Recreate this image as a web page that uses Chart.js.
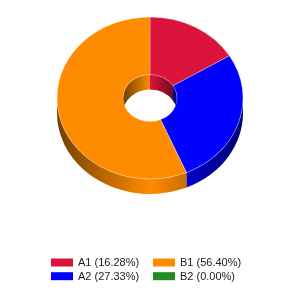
<!DOCTYPE html>
<html><head><meta charset="utf-8">
<script src="https://cdn.jsdelivr.net/npm/chart.js@4.4.0/dist/chart.umd.min.js"></script>
<style>html,body{margin:0;padding:0;background:#fff;}</style>
</head><body>
<canvas id="c" width="300" height="300"></canvas>
<script>
const categories = ['A1', 'A2', 'B1', 'B2'];
const values = [16.28, 27.33, 56.40, 0.00];
const colors = ['#DC143C', '#0000FF', '#FF8C00', '#228B22'];
const legendOrder = [0, 2, 1, 3]; // row-major: A1 B1 / A2 B2

const tilt = 0.871, depth = 15, center = {x: 150, y: 98};

function shade(hex, f) {
  const n = parseInt(hex.slice(1), 16);
  const r = Math.round(((n >> 16) & 255) * f), g = Math.round(((n >> 8) & 255) * f), b = Math.round((n & 255) * f);
  return `rgb(${r},${g},${b})`;
}
function pieces(s, e, lo, hi) {
  const out = [];
  for (const k of [-2, -1, 0, 1, 2]) {
    const a = Math.max(s + k * 2 * Math.PI, lo), b = Math.min(e + k * 2 * Math.PI, hi);
    if (b > a) out.push([a, b]);
  }
  return out;
}
function grad(ctx, cx, rad, c) {
  const g = ctx.createLinearGradient(cx - rad, 0, cx + rad, 0);
  g.addColorStop(0, shade(c, 0.45));
  g.addColorStop(0.5, shade(c, 1));
  g.addColorStop(1, shade(c, 0.45));
  return g;
}
function wall(ctx, cx, cy, rad, s, e, D, fill) {
  ctx.beginPath();
  ctx.arc(cx, cy, rad, s, e, false);
  ctx.arc(cx, cy + D, rad, e, s, true);
  ctx.closePath();
  ctx.fillStyle = fill;
  ctx.fill();
}

const pie3d = {
  id: 'pie3d',
  beforeDatasetsDraw(chart) {
    const ctx = chart.ctx;
    const arcs = chart.getDatasetMeta(0).data;
    const p0 = arcs[0].getProps(['x', 'y', 'outerRadius', 'innerRadius'], true);
    const cx = p0.x, cy = p0.y, R = p0.outerRadius, r = p0.innerRadius;
    ctx.save();
    ctx.translate(center.x, center.y);
    ctx.scale(1, tilt);
    ctx.translate(-cx, -cy);
    const D = depth / tilt;
    arcs.forEach((a, i) => {
      const p = a.getProps(['startAngle', 'endAngle'], true);
      if (p.endAngle - p.startAngle <= 0) return;
      pieces(p.startAngle, p.endAngle, Math.PI, 2 * Math.PI).forEach(([s, e]) =>
        wall(ctx, cx, cy, r, s, e, D, grad(ctx, cx, r, colors[i])));
    });
    arcs.forEach((a, i) => {
      const p = a.getProps(['startAngle', 'endAngle'], true);
      if (p.endAngle - p.startAngle <= 0) return;
      pieces(p.startAngle, p.endAngle, 0, Math.PI).forEach(([s, e]) =>
        wall(ctx, cx, cy, R, s, e, D, grad(ctx, cx, R, colors[i])));
    });
  },
  afterDatasetsDraw(chart) { chart.ctx.restore(); }
};

const legendLayout = {colX: [51, 153], rowY: [262.5, 276.2], boxW: 22, boxH: 8, gap: 5};
const legendPlugin = {
  id: 'gridLegend',
  afterDraw(chart) {
    const ctx = chart.ctx, L = legendLayout;
    ctx.save();
    ctx.font = '11px "Liberation Sans", Arial, sans-serif';
    ctx.textBaseline = 'middle';
    ctx.textAlign = 'left';
    legendOrder.forEach((idx, k) => {
      const x = L.colX[k % 2], y = L.rowY[Math.floor(k / 2)];
      ctx.fillStyle = colors[idx];
      ctx.fillRect(x, y - L.boxH / 2, L.boxW, L.boxH);
      ctx.fillStyle = '#1a1a1a';
      ctx.fillText(`${categories[idx]} (${values[idx].toFixed(2)}%)`, x + L.boxW + L.gap, y + 0.5);
    });
    ctx.restore();
  }
};

new Chart(document.getElementById('c'), {
  type: 'doughnut',
  data: {
    labels: categories,
    datasets: [{
      data: values,
      backgroundColor: colors,
      borderColor: 'rgba(255,255,255,0.35)',
      borderWidth: 1,
      radius: 93,
      cutout: '29%'
    }]
  },
  options: {
    responsive: false,
    animation: false,
    layout: {padding: 0},
    plugins: {legend: {display: false}, tooltip: {enabled: false}}
  },
  plugins: [pie3d, legendPlugin]
});
</script>
</body></html>
